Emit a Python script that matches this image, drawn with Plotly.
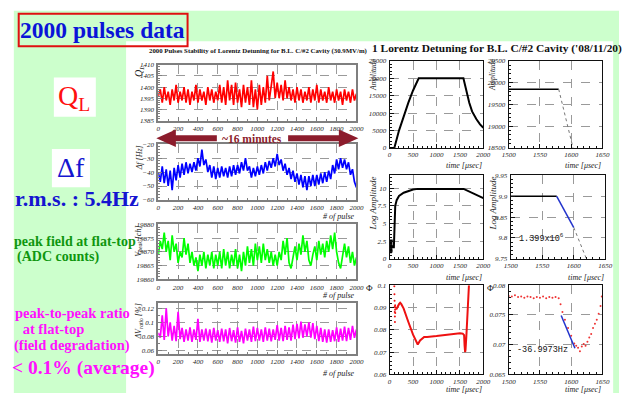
import plotly.graph_objects as go

W, H = 627, 397
def fx(x): return x / W
def fy(y): return 1 - y / H

SERIF = "Liberation Serif"
MONO = "Liberation Mono"

# ---------------- data: 2000 pulses (every 20 pulses) ----------------
pulse = list(range(0, 2001, 20))
ql = [1396,1399,1393,1400,1394,1398,1392,1399,1394,1401,1393,1398,1394,1400,1393,1399,1392,1398,1394,1401,
      1393,1399,1394,1398,1392,1400,1394,1399,1393,1398,1394,1401,1393,1400,1392,1403,1394,1401,1392,1402,
      1393,1399,1391,1401,1393,1400,1392,1403,1391,1399,1390,1401,1392,1400,1393,1405,1394,1402,1407,1395,
      1402,1395,1401,1394,1403,1395,1400,1394,1399,1393,1400,1394,1399,1393,1398,1394,1400,1393,1399,1394,
      1401,1393,1399,1394,1398,1393,1400,1394,1398,1393,1399,1394,1398,1392,1399,1394,1398,1393,1399,1394,1397]
dfreq = [-40,-47,-36,-48,-38,-50,-39,-53,-37,-46,-35,-44,-34,-42,-33,-41,-34,-40,-33,-39,
         -30,-36,-24,-35,-31,-40,-35,-44,-36,-45,-37,-44,-36,-43,-37,-44,-36,-43,-35,-42,
         -35,-41,-33,-39,-30,-39,-36,-44,-37,-43,-36,-42,-35,-41,-33,-39,-32,-37,-30,-36,
         -27,-35,-31,-39,-34,-42,-37,-45,-39,-47,-41,-49,-42,-51,-43,-53,-43,-50,-42,-50,
         -42,-49,-41,-48,-40,-47,-39,-45,-35,-41,-31,-38,-30,-37,-31,-38,-33,-42,-38,-47,-51]
vpeak = [19869,19874,19871,19877,19870,19874,19867,19876,19870,19873,19866,19870,19868,19875,19869,19873,19866,19870,19865,19868,
         19863,19869,19865,19870,19864,19869,19865,19870,19864,19869,19865,19870,19864,19871,19865,19870,19864,19869,19865,19871,
         19864,19869,19863,19870,19865,19872,19866,19871,19865,19873,19867,19872,19866,19873,19867,19871,19866,19870,19865,19869,
         19865,19870,19867,19874,19869,19875,19866,19864,19868,19872,19867,19873,19869,19876,19870,19874,19867,19865,19869,19872,
         19867,19874,19869,19873,19868,19874,19870,19876,19871,19877,19870,19866,19864,19869,19873,19868,19872,19866,19870,19865,19868]
dvratio = [0.085,0.078,0.11,0.075,0.12,0.08,0.1,0.074,0.095,0.073,0.115,0.076,0.092,0.072,0.09,0.074,0.093,0.072,0.09,0.075,
           0.105,0.072,0.09,0.074,0.091,0.073,0.09,0.071,0.092,0.074,0.089,0.072,0.091,0.073,0.09,0.07,0.092,0.073,0.089,0.071,
           0.093,0.072,0.088,0.07,0.091,0.074,0.09,0.072,0.094,0.073,0.092,0.074,0.09,0.072,0.093,0.074,0.091,0.073,0.09,0.075,
           0.096,0.074,0.092,0.073,0.095,0.075,0.093,0.074,0.097,0.076,0.098,0.077,0.101,0.078,0.097,0.08,0.1,0.078,0.099,0.076,
           0.095,0.073,0.092,0.072,0.09,0.071,0.09,0.072,0.089,0.073,0.093,0.072,0.091,0.074,0.094,0.073,0.092,0.075,0.095,0.078,0.09]

# ---------------- data: single pulse ----------------
amp_t = [0,100,200,300,400,500,620,1575,1650,1700,1760,1850,1930,2000]
amp_v = [0,0,5000,9300,13000,16500,20000,20000,15500,13000,10500,8300,6800,5800]
ampz_t = [1500,1580]
ampz_v = [19850,19850]
ampz_fall_t = [1580,1603]
ampz_fall_v = [19850,18500]

log_start_t = [5,10,12,15,18,20,22,25,28,30,35,40]
log_start_v = [1.2,2.2,1.5,2.4,1.0,1.8,2.3,1.4,2.0,1.1,2.5,1.7]
log_t = [90,100,110,120,150,200,300,400,500,600,1580,2000]
log_v = [1.5,3.0,6.0,7.5,8.3,8.9,9.35,9.6,9.8,9.9,9.9,8.6]
logz_t = [1500,1573]
logz_v = [9.9,9.9]
logfit_t = [1573,1600]
logfit_v = [9.9,9.825]
logz_tail_t = [1600,1620]
logz_tail_v = [9.825,9.75]

phi_start_t = [100,103,106,108,110,112,114,116,118,120,122]
phi_start_v = [0.0995,0.096,0.093,0.0905,0.088,0.086,0.0835,0.089,0.091,0.0875,0.09]
phi_t = [125,150,200,225,250,300,400,500,600,650,737,800,1000,1200,1400,1500,1560,1590,1600,1611,1620,1640,1660,1680,1693]
phi_v = [0.0895,0.0895,0.0915,0.0921,0.0915,0.0895,0.0835,0.0778,0.0734,0.0752,0.0768,0.0768,0.0772,0.0777,0.0782,0.0785,0.0783,0.0776,0.073,0.070,0.071,0.078,0.088,0.096,0.1]
phiz_t = [1500,1505,1510,1515,1520,1525,1530,1535,1540,1545,1550,1555,1560,1565,1570,1575,1580,1583,1586,1590,1595,1600,1605,1608,1611,1614,1617,1620,1623,1626,1629,1632,1635,1638,1641,1644,1647,1649]
phiz_v = [0.0782,0.0781,0.0783,0.0780,0.0781,0.0779,0.0781,0.0780,0.0778,0.0780,0.0779,0.0781,0.0778,0.0780,0.0779,0.0780,0.0778,0.0768,0.0755,0.0742,0.0728,0.0715,0.0702,0.0698,0.0695,0.0689,0.0697,0.0701,0.0698,0.0705,0.0712,0.0718,0.0728,0.0735,0.0742,0.0752,0.0765,0.0781]
phifit_t = [1584,1606]
phifit_v = [0.0749,0.0694]

# ---------------- figure ----------------
fig = go.Figure()

GRID = "#9a9a9a"

def axis_pair(n, xd, yd, xr, yr, xdt, ydt, xt0, yt0, lc, lw, xminor, yminor, yfmt=None, xfmt=None, tsize=7):
    sx = "" if n == 1 else str(n)
    common = dict(showline=True, mirror=True, linecolor=lc, linewidth=lw,
                  showgrid=True, gridcolor=GRID, griddash="dash", gridwidth=1,
                  zeroline=False, ticks="inside", ticklen=4, tickcolor=lc,
                  tickfont=dict(family=SERIF, size=tsize, color="#222", style="italic"))
    fig.layout["xaxis" + sx] = dict(common, domain=xd, range=xr, dtick=xdt, tick0=xt0,
                                    anchor="y" + sx, ticklabelstandoff=0,
                                    minor=dict(ticks="inside", ticklen=2, dtick=xminor, tickcolor=lc, showgrid=False),
                                    **({"tickformat": xfmt} if xfmt else {}))
    fig.layout["yaxis" + sx] = dict(common, domain=yd, range=yr, dtick=ydt, tick0=yt0,
                                    anchor="x" + sx, ticklabelstandoff=1,
                                    minor=dict(ticks="inside", ticklen=2, dtick=yminor, tickcolor=lc, showgrid=False),
                                    **({"tickformat": yfmt} if yfmt else {}))

LX = [fx(155), fx(358)]
axis_pair(1, LX, [fy(119), fy(62)], [0, 2000], [1385, 1410], 200, 5, 0, 1385, "#7f7f7f", 2, 100, 1, "d")
axis_pair(2, LX, [fy(200), fy(143)], [0, 2000], [-60, -20], 200, 10, 0, -60, "#7f7f7f", 2, 100, 2, "d")
axis_pair(3, LX, [fy(281), fy(225)], [0, 2000], [19860, 19880], 200, 5, 0, 19860, "#7f7f7f", 2, 100, 1, "d")
axis_pair(4, LX, [fy(357), fy(305)], [0, 2000], [0.055, 0.128], 200, 0.02, 0, 0.06, "#7f7f7f", 2, 100, 0.01)

RL = [fx(392), fx(488)]
RR = [fx(514), fx(610)]
axis_pair(5, RL, [fy(147), fy(58)], [0, 2000], [0, 25000], 500, 5000, 0, 0, "#111", 1, 100, 1000, "d", "d")
axis_pair(6, RR, [fy(147), fy(58)], [1500, 1650], [18500, 20500], 50, 500, 1500, 18500, "#111", 1, 10, 100, "d", "d")
axis_pair(7, RL, [fy(260), fy(175)], [0, 2000], [0, 11.8], 500, 2.5, 0, 0, "#111", 1, 100, 0.5, None, "d")
axis_pair(8, [fx(516), fx(613)], [fy(260), fy(175)], [1500, 1650], [9.75, 9.95], 50, 0.05, 1500, 9.75, "#111", 1, 10, 0.01, None, "d")
axis_pair(9, RL, [fy(378), fy(287)], [0, 2000], [0.06, 0.1], 500, 0.01, 0, 0.06, "#111", 1, 100, 0.002, None, "d")
axis_pair(10, RR, [fy(378), fy(287)], [1500, 1650], [0.065, 0.08], 50, 0.005, 1500, 0.065, "#111", 1, 10, 0.001, None, "d")

def tr(n, x, y, **kw):
    sx = "" if n == 1 else str(n)
    fig.add_trace(go.Scatter(x=x, y=y, xaxis="x" + sx, yaxis="y" + sx, showlegend=False,
                             hoverinfo="skip", **kw))

tr(1, pulse, ql, mode="lines", line=dict(color="#ff0000", width=1.7))
tr(2, pulse, dfreq, mode="lines", line=dict(color="#0000ff", width=1.7))
tr(3, pulse, vpeak, mode="lines", line=dict(color="#00ff00", width=1.7))
tr(4, pulse, dvratio, mode="lines", line=dict(color="#ff00ff", width=1.7))

tr(5, amp_t, amp_v, mode="lines", line=dict(color="#000", width=2))
tr(6, ampz_t, ampz_v, mode="lines", line=dict(color="#000", width=1.5))
tr(6, ampz_fall_t, ampz_fall_v, mode="lines", line=dict(color="#777", width=1, dash="dot"))
tr(7, log_start_t, log_start_v, mode="markers", marker=dict(color="#000", size=3, symbol="square"))
tr(7, log_t, log_v, mode="lines", line=dict(color="#000", width=2))
tr(8, logz_t, logz_v, mode="lines", line=dict(color="#000", width=1.5))
tr(8, logfit_t, logfit_v, mode="lines", line=dict(color="#2233cc", width=1.5))
tr(8, logz_tail_t, logz_tail_v, mode="lines", line=dict(color="#777", width=1, dash="dot"))
tr(9, phi_start_t, phi_start_v, mode="markers", marker=dict(color="#ee1111", size=2))
tr(9, phi_t, phi_v, mode="lines", line=dict(color="#ee1111", width=2))
tr(10, phiz_t, phiz_v, mode="markers", marker=dict(color="#ee3333", size=2))
tr(10, phifit_t, phifit_v, mode="lines", line=dict(color="#2233cc", width=1.5))

# ---------------- backgrounds ----------------
GREEN = "#ccffcc"
ARROW = "#8c1c2c"

def ppath(pts):
    return "M " + " L ".join(f"{fx(x):.5f},{fy(y):.5f}" for x, y in pts) + " Z"

shapes = [
    dict(type="rect", xref="paper", yref="paper", x0=fx(7), x1=1, y0=0, y1=fy(7),
         fillcolor=GREEN, line=dict(width=0), layer="below"),
    dict(type="rect", xref="paper", yref="paper", x0=fx(122), x1=fx(621), y0=0, y1=fy(38),
         fillcolor="white", line=dict(width=0), layer="below"),
    dict(type="rect", xref="paper", yref="paper", x0=fx(12), x1=fx(185), y0=fy(43), y1=fy(10),
         fillcolor="rgba(0,0,0,0)", line=dict(color="#e01010", width=2), layer="below"),
    dict(type="rect", xref="paper", yref="paper", x0=fx(48), x1=fx(91), y0=fy(115), y1=fy(75),
         fillcolor="white", line=dict(width=0), layer="below"),
    dict(type="rect", xref="paper", yref="paper", x0=fx(46), x1=fx(85), y0=fy(187), y1=fy(148),
         fillcolor="white", line=dict(width=0), layer="below"),
    # ~16 minutes double arrow
    dict(type="path", xref="paper", yref="paper", layer="above", fillcolor=ARROW, line=dict(width=0),
         path=ppath([(153, 137), (173, 128), (173, 134), (215, 134), (215, 140), (173, 140), (173, 146)])),
    dict(type="path", xref="paper", yref="paper", layer="above", fillcolor=ARROW, line=dict(width=0),
         path=ppath([(360, 137), (340, 128), (340, 134), (288, 134), (288, 140), (340, 140), (340, 146)])),
]
fig.update_layout(shapes=shapes)

# ---------------- texts ----------------
ann = []
def A(text, x, y, size, color="#000", xanchor="center", yanchor="middle", family=SERIF, angle=0, **kw):
    ann.append(dict(text=text, x=fx(x), y=fy(y), xref="paper", yref="paper", showarrow=False,
                    xanchor=xanchor, yanchor=yanchor, textangle=angle, borderpad=0,
                    font=dict(family=family, size=size, color=color, **kw)))

A("<b>2000 pulses data</b>", 98, 27, 23.5, "#0a14d8")
A("Q<sub>L</sub>", 69, 95, 28, "#ff1010")
A("Δf", 66, 167, 28, "#1515d0")
A("<b>r.m.s. : 5.4Hz</b>", 72, 198, 22, "#1515d0")
A("<b>peak field at flat-top</b>", 70, 242, 14, "#0f960f")
A("<b>(ADC counts)</b>", 9, 258, 14, "#0f960f", xanchor="left")
A("<b>peak-to-peak ratio</b>", 67, 315, 14.5, "#ff10ff")
A("<b> at flat-top</b>", 11, 332, 14.5, "#ff10ff", xanchor="left")
A("<b>(field degradation)</b>", 67, 349, 14.5, "#ff10ff")
A("<b>&lt; 0.1% (average)</b>", 78, 371, 19.5, "#ff10ff")

A("<b>2000 Pulses Stability of Lorentz Detuning for B.L. C/#2 Cavity (30.9MV/m)</b>", 257, 48, 6.8, "#111")
A("<b>1 Lorentz Detuning for B.L. C/#2 Cavity ('08/11/20)</b>", 502, 45, 11.4, "#111")

A("<b>~16 minutes</b>", 251, 138, 11.5, ARROW)

# axis titles (left panels)
A("Q<sub>L</sub>", 135, 62, 10, "#222", yanchor="top", angle=-90, style="italic")
A("Δf [Hz]", 136, 143, 8, "#222", yanchor="top", angle=-90, style="italic")
A("V<sub>peak</sub> [ch]", 135, 225, 8, "#222", yanchor="top", angle=-90, style="italic")
A("ΔV<sub>ratio</sub> [%]", 135, 305, 8, "#222", yanchor="top", angle=-90, style="italic")
for yy in (217, 298, 377):
    A("# of pulse", 358, yy, 8, "#222", xanchor="right", style="italic")

# axis titles (right panels)
A("Amplitude", 376, 55, 7.5, "#222", yanchor="top", angle=-90, style="italic")
A("Amplitude", 498, 55, 7.5, "#222", yanchor="top", angle=-90, style="italic")
A("Log Amplitude", 375, 175, 9, "#222", yanchor="top", angle=-90, style="italic")
A("Log Amplitude", 498, 175, 9, "#222", yanchor="top", angle=-90, style="italic")
A("Φ", 371, 290, 9, "#222")
A("Φ", 495, 290, 9, "#222")
for (xx, yy) in ((488, 165), (610, 165), (488, 279), (613, 279), (488, 393), (610, 393)):
    A("time [μsec]", xx, yy, 8, "#222", xanchor="right", style="italic")

# in-plot annotations
ann.append(dict(text="1.399x10<sup>6</sup>", x=1510, y=9.8, xref="x8", yref="y8", showarrow=False,
                xanchor="left", font=dict(family=MONO, size=8.5, color="#111")))
ann.append(dict(text="-36.9973Hz", x=1510, y=0.0691, xref="x10", yref="y10", showarrow=False,
                xanchor="left", font=dict(family=MONO, size=8.5, color="#111")))

fig.update_layout(annotations=ann, width=W, height=H, margin=dict(l=0, r=0, t=0, b=0),
                  paper_bgcolor="white", plot_bgcolor="white", showlegend=False)

fig.write_html("out.html")
